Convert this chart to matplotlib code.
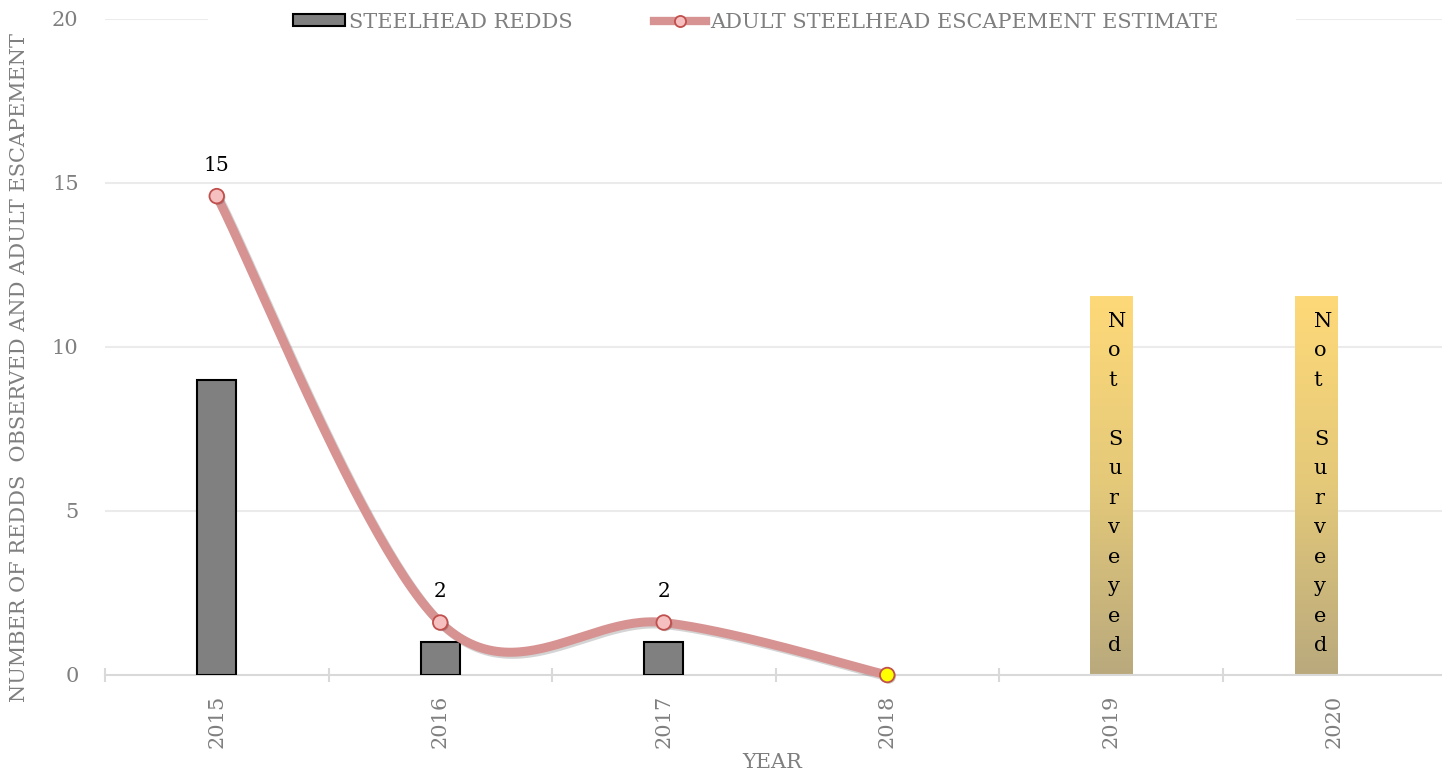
import numpy as np
import matplotlib
matplotlib.use("Agg")
import matplotlib.pyplot as plt
from matplotlib.colors import LinearSegmentedColormap
from matplotlib.lines import Line2D
from matplotlib.patches import Patch, Rectangle
from matplotlib import patheffects as pe

# ---- data ----
years = ["2015", "2016", "2017", "2018", "2019", "2020"]
redd_years = ["2015", "2016", "2017", "2018"]
redds = [9, 1, 1, 0]
escapement = [14.6, 1.6, 1.6, 0]
not_surveyed_positions = [4.0, 4.92]
not_surveyed_top = 11.55
not_surveyed_text = "Not Surveyed"

GRAY_TXT = "#7f7f7f"
LINE_COL = "#d69392"
FONT = "DejaVu Serif"
FS = 15
plt.rcParams["font.family"] = [FONT, "DejaVu Sans"]

fig = plt.figure(figsize=(14.42, 7.74), dpi=100)
W, H = 1442, 774
ax = fig.add_axes([105 / W, 1 - 675 / H, 1341 / W, 656 / H])
ax.set_facecolor("white")

x = np.arange(len(years))
xr = np.arange(len(redd_years))

# redd counts (no outline on empty years)
ax.bar(xr, redds, width=0.175, color="#808080", edgecolor="black",
       linewidth=[1.5 if v > 0 else 0 for v in redds], zorder=3)

# "not surveyed" bands with vertical gradient
cmap = LinearSegmentedColormap.from_list("ns", ["#b9a97d", "#e4c97a", "#fed978"])
grad = np.linspace(0, 1, 256).reshape(-1, 1)
bw = 0.19
for xc in not_surveyed_positions:
    ax.imshow(grad, cmap=cmap, origin="lower", aspect="auto",
              extent=[xc - bw / 2, xc + bw / 2, 0, not_surveyed_top], zorder=2)
    step = 0
    for ch in not_surveyed_text:
        if ch != " ":
            ax.annotate(ch, xy=(xc, not_surveyed_top),
                        xytext=(-2.5 * 0.72, -(30.5 + step * 29.5) * 0.72),
                        textcoords="offset points", ha="left", va="baseline",
                        fontsize=FS, color="black", zorder=4)
        step += 1


# smoothed escapement curve (Catmull-Rom through the points)
def smooth(xs, ys, n=60):
    pts = np.column_stack([xs, ys]).astype(float)
    ext = np.vstack([pts[0], pts, pts[-1]])
    out = []
    for i in range(len(pts) - 1):
        p0, p1, p2, p3 = ext[i], ext[i + 1], ext[i + 2], ext[i + 3]
        c1 = p1 + (p2 - p0) / 6.0
        c2 = p2 - (p3 - p1) / 6.0
        t = np.linspace(0, 1, n)[:, None]
        seg = ((1 - t) ** 3) * p1 + 3 * ((1 - t) ** 2) * t * c1 \
            + 3 * (1 - t) * t ** 2 * c2 + t ** 3 * p2
        out.append(seg if i == 0 else seg[1:])
    return np.vstack(out)

xe = np.arange(len(escapement))
curve = smooth(xe, escapement)
ax.plot(curve[:, 0], curve[:, 1], color=LINE_COL, lw=6.5, solid_capstyle="round",
        zorder=5, clip_on=False,
        path_effects=[pe.SimpleLineShadow(offset=(1.5, -1.5), alpha=0.25,
                                          shadow_color="#555555"), pe.Normal()])
face = ["#f6c0c0"] * (len(escapement) - 1) + ["#ffff00"]
for xi, yi, fc in zip(xe, escapement, face):
    ax.plot([xi], [yi], marker="o", ms=10.5, mfc=fc, mec="#c0504d", mew=1.3,
            ls="none", zorder=6, clip_on=False,
            path_effects=[pe.SimplePatchShadow(offset=(1, -1), alpha=0.3),
                          pe.Normal()])
    if yi > 0:
        ax.annotate(f"{yi:.0f}", xy=(xi, yi), xytext=(0, 22),
                    textcoords="offset points", ha="center", va="center",
                    fontsize=14.5, color="black", zorder=7)

# axes styling
ax.set_xlim(-0.5, 5.5)
ax.set_ylim(0, 20)
ax.set_yticks([0, 5, 10, 15, 20])
ax.tick_params(axis="y", length=0, pad=19, labelsize=FS, labelcolor=GRAY_TXT)
ax.set_xticks(x)
ax.set_xticklabels(years, rotation=90)
ax.tick_params(axis="x", which="major", length=0, pad=14, labelsize=FS,
               labelcolor=GRAY_TXT)
ax.set_xticks(np.arange(-0.5, 5.0, 1.0), minor=True)
ax.tick_params(axis="x", which="minor", direction="inout", length=9.5,
               width=1.5, color="#d9d9d9")
for s in ["top", "right", "left"]:
    ax.spines[s].set_visible(False)
ax.spines["bottom"].set_color("#d9d9d9")
ax.spines["bottom"].set_linewidth(1.5)
for yv in [5, 10, 15, 20]:
    ax.axhline(yv, color="#ebebeb", lw=1.5, zorder=0)

fig.text(20 / W, 1 - 368 / H, "NUMBER OF REDDS  OBSERVED AND ADULT ESCAPEMENT",
         rotation=90, ha="center", va="center", fontsize=FS, color=GRAY_TXT)
fig.text(772 / W, 1 - 762 / H, "YEAR", ha="center", va="center",
         fontsize=FS, color=GRAY_TXT)

# legend on a white strip over the top gridline
fig.add_artist(Rectangle((208 / W, 1 - 34 / H), (1296 - 208) / W, 24 / H,
                         transform=fig.transFigure, facecolor="white",
                         edgecolor="none", zorder=1))
handles = [
    Patch(facecolor="#808080", edgecolor="black", linewidth=1.5),
    Line2D([0], [0], color=LINE_COL, lw=6, marker="o", ms=8,
           mfc="#f6c0c0", mec="#c0504d", mew=1.3),
]
leg = fig.legend(handles, ["STEELHEAD REDDS", "ADULT STEELHEAD ESCAPEMENT ESTIMATE"],
                 loc="center", bbox_to_anchor=(756 / W, 1 - 22 / H), ncol=2,
                 frameon=False, fontsize=FS, handlelength=2.5, handleheight=0.55,
                 handletextpad=0.2, columnspacing=3.9, borderpad=0)
for t in leg.get_texts():
    t.set_color(GRAY_TXT)
leg.set_zorder(2)

fig.savefig("out.png", dpi=100, facecolor="white")
